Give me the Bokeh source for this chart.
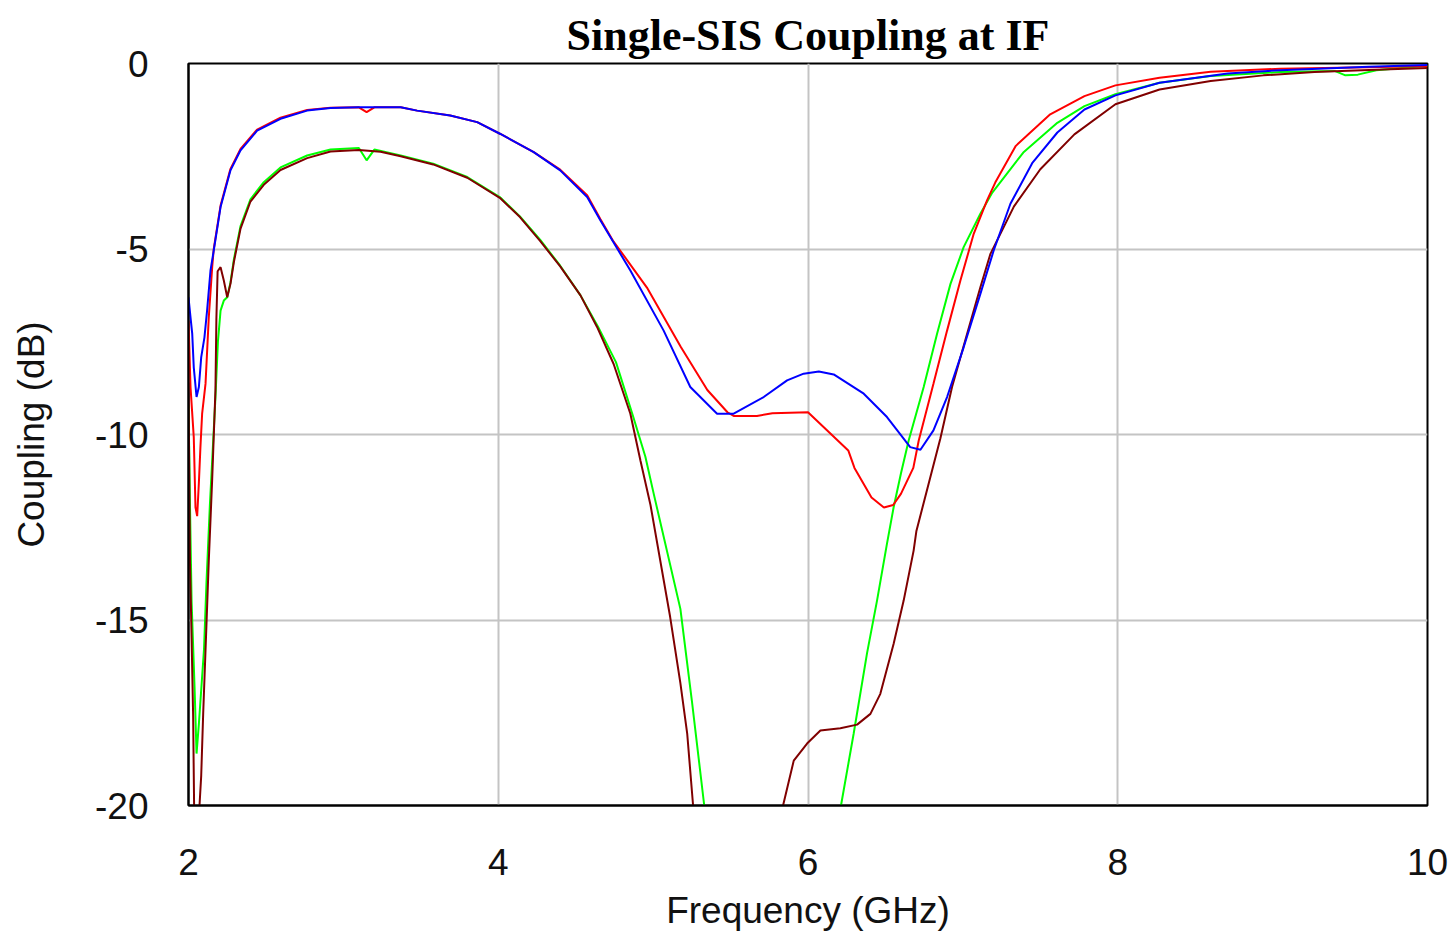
from bokeh.plotting import figure
from bokeh.models import FixedTicker, Range1d
from bokeh.embed import file_html
from bokeh.resources import INLINE

# ---- data ----
blue_f = [2.000, 2.012, 2.024, 2.034, 2.052, 2.067, 2.082, 2.103, 2.120, 2.142, 2.163, 2.207, 2.271, 2.336,
          2.443, 2.594, 2.766, 2.917, 3.10, 3.37, 3.476, 3.69, 3.864, 4.014, 4.229, 4.40, 4.574, 4.66,
          4.853, 5.068, 5.24, 5.413, 5.52, 5.714, 5.865, 5.972, 6.07, 6.166, 6.36, 6.51, 6.66, 6.726,
          6.81, 6.898, 7.005, 7.113, 7.199, 7.307, 7.45, 7.61, 7.785, 7.985, 8.27, 8.71, 9.05, 9.62, 10.0]
blue_db = [-6.3, -6.8, -7.28, -8.19, -8.99, -8.72, -7.92, -7.38, -6.66, -5.58, -5.04, -3.87, -2.88, -2.34,
           -1.81, -1.49, -1.27, -1.20, -1.18, -1.18, -1.27, -1.40, -1.58, -1.90, -2.39, -2.88, -3.6, -4.23,
           -5.58, -7.2, -8.72, -9.44, -9.44, -8.99, -8.54, -8.36, -8.3, -8.38, -8.9, -9.53, -10.34, -10.41,
           -9.89, -8.99, -7.65, -6.21, -5.04, -3.78, -2.67, -1.86, -1.24, -0.86, -0.52, -0.27, -0.18, -0.09, -0.04]

red_f = [2.000, 2.013, 2.034, 2.045, 2.056, 2.067, 2.077, 2.088, 2.110, 2.131, 2.153, 2.163, 2.207, 2.271,
         2.336, 2.443, 2.594, 2.766, 2.917, 3.10, 3.15, 3.20, 3.37, 3.476, 3.69, 3.864, 4.014, 4.229, 4.40,
         4.574, 4.66, 4.74, 4.96, 5.18, 5.35, 5.48, 5.52, 5.67, 5.77, 6.0, 6.26, 6.30, 6.41, 6.49, 6.55,
         6.60, 6.68, 6.715, 6.81, 6.898, 6.984, 7.07, 7.156, 7.209, 7.342, 7.564, 7.785, 7.985, 8.27,
         8.60, 9.05, 9.62, 10.0]
red_db = [-6.93, -8.72, -10.07, -11.96, -12.2, -11.3, -10.34, -9.44, -8.63, -6.84, -5.49, -5.0, -3.83, -2.84,
          -2.30, -1.78, -1.46, -1.25, -1.19, -1.18, -1.31, -1.18, -1.18, -1.27, -1.40, -1.58, -1.90, -2.39, -2.86,
          -3.55, -4.2, -4.77, -6.04, -7.65, -8.8, -9.4, -9.5, -9.5, -9.43, -9.4, -10.43, -10.9, -11.7, -11.97, -11.9,
          -11.6, -10.9, -10.16, -8.63, -7.2, -5.85, -4.59, -3.69, -3.21, -2.22, -1.37, -0.88, -0.59, -0.385,
          -0.22, -0.14, -0.1, -0.07]

green_f = [2.000, 2.010, 2.020, 2.039, 2.052, 2.067, 2.100, 2.116, 2.138, 2.174, 2.190, 2.207, 2.228, 2.250,
           2.271, 2.293, 2.336, 2.40, 2.486, 2.594, 2.766, 2.917, 3.10, 3.15, 3.20, 3.37, 3.58, 3.80, 4.01,
           4.14, 4.27, 4.40, 4.531, 4.645, 4.76, 4.87, 4.95, 5.004, 5.176, 5.25, 5.33, 5.4, 5.8, 6.15, 6.213, 6.295,
           6.381, 6.446, 6.51, 6.553, 6.60, 6.65, 6.747, 6.833, 6.92, 7.005, 7.113, 7.19, 7.39, 7.61, 7.785,
           7.985, 8.27, 8.60, 9.05, 9.40, 9.47, 9.55, 9.67, 10.0]
green_db = [-9.2, -12.0, -14.5, -16.8, -18.6, -17.8, -15.8, -14.0, -11.9, -9.0, -7.5, -6.66, -6.39, -6.3,
            -5.9, -5.28, -4.38, -3.66, -3.20, -2.80, -2.48, -2.32, -2.28, -2.61, -2.32, -2.48, -2.70, -3.06, -3.6,
            -4.12, -4.75, -5.45, -6.25, -7.1, -8.05, -9.5, -10.6, -11.6, -14.7, -17.17, -20.0, -22.0, -35.0, -22.0,
            -20.0, -18.06, -15.9, -14.47, -12.94, -11.96, -11.05, -10.16, -8.72, -7.29, -5.94, -4.95, -4.05, -3.48,
            -2.40, -1.6, -1.15, -0.83, -0.52, -0.34, -0.23, -0.2, -0.32, -0.3, -0.18, -0.06]

brown_f = [2.000, 2.010, 2.020, 2.030, 2.040, 2.055, 2.071, 2.082, 2.095, 2.110, 2.131, 2.153, 2.174, 2.180,
           2.188, 2.207, 2.228, 2.250, 2.271, 2.293, 2.336, 2.40, 2.486, 2.594, 2.766, 2.917, 3.10, 3.24, 3.37,
           3.58, 3.80, 4.01, 4.14, 4.27, 4.40, 4.531, 4.638, 4.745, 4.853, 4.918, 4.983, 5.11, 5.176, 5.22, 5.258,
           5.3, 5.55, 5.80, 5.839, 5.908, 5.994, 6.08, 6.209, 6.317, 6.403, 6.467, 6.553, 6.618, 6.682, 6.70,
           6.855, 6.93, 7.027, 7.113, 7.178, 7.33, 7.5, 7.72, 7.985, 8.27, 8.60, 8.94, 9.27, 9.71, 10.0]
brown_db = [-8.6, -13.5, -15.5, -17.6, -21.5, -22.0, -20.0, -19.2, -17.5, -15.8, -13.4, -11.2, -8.8, -6.9,
            -5.6, -5.49, -5.85, -6.3, -5.94, -5.35, -4.45, -3.72, -3.27, -2.87, -2.55, -2.37, -2.33, -2.38, -2.5,
            -2.72, -3.08, -3.62, -4.14, -4.78, -5.47, -6.25, -7.1, -8.1, -9.44, -10.7, -11.9, -14.92, -16.7, -18.06,
            -20.0, -22.0, -35.0, -22.0, -20.0, -18.79, -18.33, -17.98, -17.92, -17.82, -17.53, -16.99, -15.64,
            -14.47, -13.13, -12.6, -10.1, -8.72, -7.29, -6.03, -5.13, -3.85, -2.85, -1.91, -1.10, -0.70, -0.47,
            -0.32, -0.23, -0.16, -0.12]

x_ticks = [2, 4, 6, 8, 10]
y_ticks = [-20, -15, -10, -5, 0]

p = figure(width=1455, height=936, frame_width=1239, frame_height=742,
           x_range=Range1d(2, 10), y_range=Range1d(-20, 0),
           output_backend="svg", toolbar_location=None,
           min_border_left=188, min_border_right=28, min_border_top=63, min_border_bottom=131,
           title="Single-SIS Coupling at IF")

p.title.text_font = "Liberation Serif"
p.title.text_font_size = "44px"
p.title.text_font_style = "bold"
p.title.align = "center"
p.title.text_color = "#000000"
p.title.standoff = 8

p.background_fill_color = "white"
p.border_fill_color = "white"
p.outline_line_color = "#000000"
p.outline_line_width = 2

for ax, ticks in ((p.xaxis, x_ticks), (p.yaxis, y_ticks)):
    ax.ticker = FixedTicker(ticks=ticks)
    ax.major_tick_in = 0
    ax.major_tick_out = 0
    ax.minor_tick_in = 0
    ax.minor_tick_out = 0
    ax.axis_line_color = "#000000"
    ax.axis_line_width = 2
    ax.major_label_text_font = "Liberation Sans"
    ax.major_label_text_font_size = "37px"
    ax.major_label_text_color = "#111111"
    ax.axis_label_text_font = "Liberation Sans"
    ax.axis_label_text_font_size = "37px"
    ax.axis_label_text_font_style = "normal"
    ax.axis_label_text_color = "#111111"

p.xaxis.major_label_standoff = 43
p.yaxis.major_label_standoff = 40
p.xaxis.axis_label = "Frequency (GHz)"
p.yaxis.axis_label = "Coupling (dB)"
p.xaxis.axis_label_standoff = 12
p.yaxis.axis_label_standoff = 40
p.xaxis.major_label_overrides = {2: "2", 4: "4", 6: "6", 8: "8", 10: "10"}
p.yaxis.major_label_overrides = {-20: "-20", -15: "-15", -10: "-10", -5: "-5", 0: "0"}

p.xgrid.ticker = FixedTicker(ticks=x_ticks)
p.ygrid.ticker = FixedTicker(ticks=y_ticks)
p.grid.grid_line_color = "#c4c4c4"
p.grid.grid_line_width = 2

p.line(green_f, green_db, line_color="#00ff00", line_width=2)
p.line(brown_f, brown_db, line_color="#800000", line_width=2)
p.line(red_f, red_db, line_color="#ff0000", line_width=2)
p.line(blue_f, blue_db, line_color="#0000ff", line_width=2)

open("out.html", "w").write(file_html(p, INLINE))
